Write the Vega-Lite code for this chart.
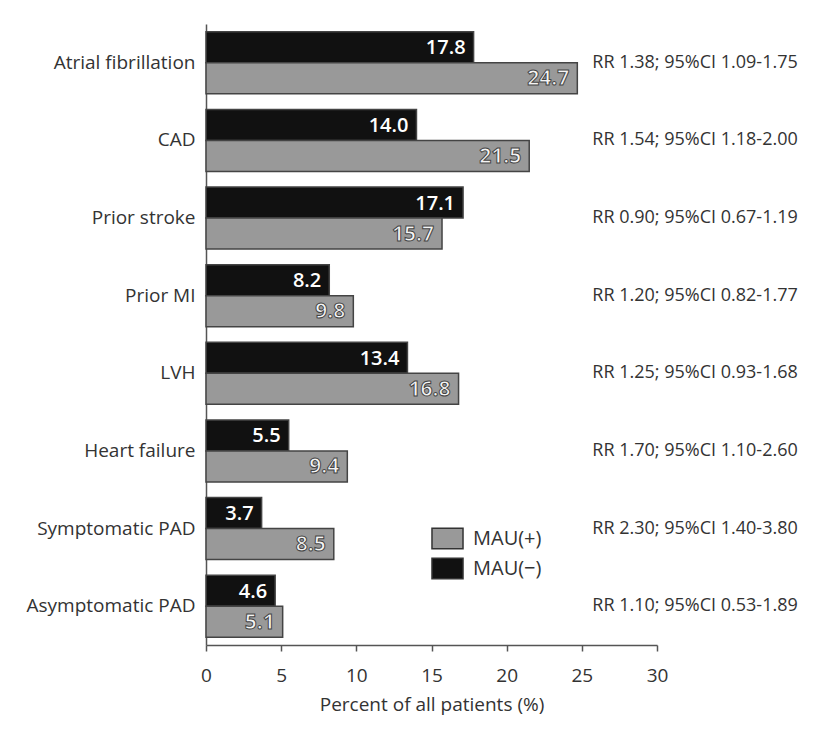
{
  "$schema": "https://vega.github.io/schema/vega-lite/v6.json",
  "autosize": "none",
  "width": 451,
  "height": 621,
  "padding": {"left": 206, "top": 24, "right": 169, "bottom": 90},
  "background": "white",
  "config": {
    "font": "Open Sans",
    "view": {"stroke": null},
    "axis": {"labelColor": "#333", "titleColor": "#333", "domainColor": "#555", "domainWidth": 1.5, "tickColor": "#555", "tickWidth": 1.5, "labelFontWeight": "normal", "titleFontWeight": "normal"}
  },
  "datasets": {
    "bars": [
      {"condition": "Atrial fibrillation", "group": "MAU(−)", "value": 17.8, "label": "17.8"},
      {"condition": "Atrial fibrillation", "group": "MAU(+)", "value": 24.7, "label": "24.7"},
      {"condition": "CAD", "group": "MAU(−)", "value": 14.0, "label": "14.0"},
      {"condition": "CAD", "group": "MAU(+)", "value": 21.5, "label": "21.5"},
      {"condition": "Prior stroke", "group": "MAU(−)", "value": 17.1, "label": "17.1"},
      {"condition": "Prior stroke", "group": "MAU(+)", "value": 15.7, "label": "15.7"},
      {"condition": "Prior MI", "group": "MAU(−)", "value": 8.2, "label": "8.2"},
      {"condition": "Prior MI", "group": "MAU(+)", "value": 9.8, "label": "9.8"},
      {"condition": "LVH", "group": "MAU(−)", "value": 13.4, "label": "13.4"},
      {"condition": "LVH", "group": "MAU(+)", "value": 16.8, "label": "16.8"},
      {"condition": "Heart failure", "group": "MAU(−)", "value": 5.5, "label": "5.5"},
      {"condition": "Heart failure", "group": "MAU(+)", "value": 9.4, "label": "9.4"},
      {"condition": "Symptomatic PAD", "group": "MAU(−)", "value": 3.7, "label": "3.7"},
      {"condition": "Symptomatic PAD", "group": "MAU(+)", "value": 8.5, "label": "8.5"},
      {"condition": "Asymptomatic PAD", "group": "MAU(−)", "value": 4.6, "label": "4.6"},
      {"condition": "Asymptomatic PAD", "group": "MAU(+)", "value": 5.1, "label": "5.1"}
    ],
    "rr": [
      {"condition": "Atrial fibrillation", "rr": "RR 1.38; 95%CI 1.09-1.75"},
      {"condition": "CAD", "rr": "RR 1.54; 95%CI 1.18-2.00"},
      {"condition": "Prior stroke", "rr": "RR 0.90; 95%CI 0.67-1.19"},
      {"condition": "Prior MI", "rr": "RR 1.20; 95%CI 0.82-1.77"},
      {"condition": "LVH", "rr": "RR 1.25; 95%CI 0.93-1.68"},
      {"condition": "Heart failure", "rr": "RR 1.70; 95%CI 1.10-2.60"},
      {"condition": "Symptomatic PAD", "rr": "RR 2.30; 95%CI 1.40-3.80"},
      {"condition": "Asymptomatic PAD", "rr": "RR 1.10; 95%CI 0.53-1.89"}
    ]
  },
  "encoding": {
    "y": {
      "field": "condition", "type": "nominal",
      "sort": ["Atrial fibrillation", "CAD", "Prior stroke", "Prior MI", "LVH", "Heart failure", "Symptomatic PAD", "Asymptomatic PAD"],
      "scale": {"paddingInner": 0.2, "paddingOuter": 0.1},
      "axis": {"title": null, "ticks": false, "labelFontSize": 19, "labelPadding": 11, "domain": true}
    }
  },
  "layer": [
    {
      "data": {"name": "bars"},
      "mark": {"type": "bar", "stroke": "#444", "strokeWidth": 1.5},
      "encoding": {
        "x": {"field": "value", "type": "quantitative", "scale": {"domain": [0, 30]},
          "axis": {"title": "Percent of all patients (%)", "values": [0, 5, 10, 15, 20, 25, 30], "grid": false, "tickSize": 6, "labelFontSize": 19, "titleFontSize": 19, "labelPadding": 15, "titlePadding": 10, "labelFlush": false}},
        "yOffset": {"field": "group", "type": "nominal", "sort": ["MAU(−)", "MAU(+)"], "scale": {"paddingInner": 0, "paddingOuter": 0}},
        "color": {
          "field": "group", "type": "nominal",
          "scale": {"domain": ["MAU(+)", "MAU(−)"], "range": ["#999999", "#111111"]},
          "legend": {
            "title": null, "orient": "none", "legendX": 230, "legendY": 503,
            "symbolType": "M-1.5,-1H1.5V1H-1.5Z", "symbolSize": 428, "symbolStrokeColor": "#333", "symbolStrokeWidth": 1.5, "symbolOpacity": 1,
            "labelFontSize": 20, "labelColor": "#333", "labelOffset": 14, "rowPadding": 3, "padding": 0
          }
        }
      }
    },
    {
      "data": {"name": "bars"},
      "transform": [{"filter": "datum.group === 'MAU(−)'"}],
      "mark": {"type": "text", "align": "right", "baseline": "middle", "dx": -8, "dy": 1, "fontSize": 20, "fontWeight": 600, "fill": "white"},
      "encoding": {
        "x": {"field": "value", "type": "quantitative"},
        "yOffset": {"field": "group", "type": "nominal", "sort": ["MAU(−)", "MAU(+)"]},
        "text": {"field": "label"}
      }
    },
    {
      "data": {"name": "bars"},
      "transform": [{"filter": "datum.group === 'MAU(+)'"}],
      "mark": {"type": "text", "align": "right", "baseline": "middle", "dx": -8, "dy": 1, "fontSize": 21, "fontWeight": "bold", "fill": "#f4f4f4", "stroke": "#444", "strokeWidth": 1},
      "encoding": {
        "x": {"field": "value", "type": "quantitative"},
        "yOffset": {"field": "group", "type": "nominal", "sort": ["MAU(−)", "MAU(+)"]},
        "text": {"field": "label"}
      }
    },
    {
      "data": {"name": "rr"},
      "mark": {"type": "text", "align": "left", "baseline": "middle", "fontSize": 18, "fill": "#333"},
      "encoding": {
        "x": {"datum": 25.7, "type": "quantitative"},
        "text": {"field": "rr"}
      }
    }
  ]
}
